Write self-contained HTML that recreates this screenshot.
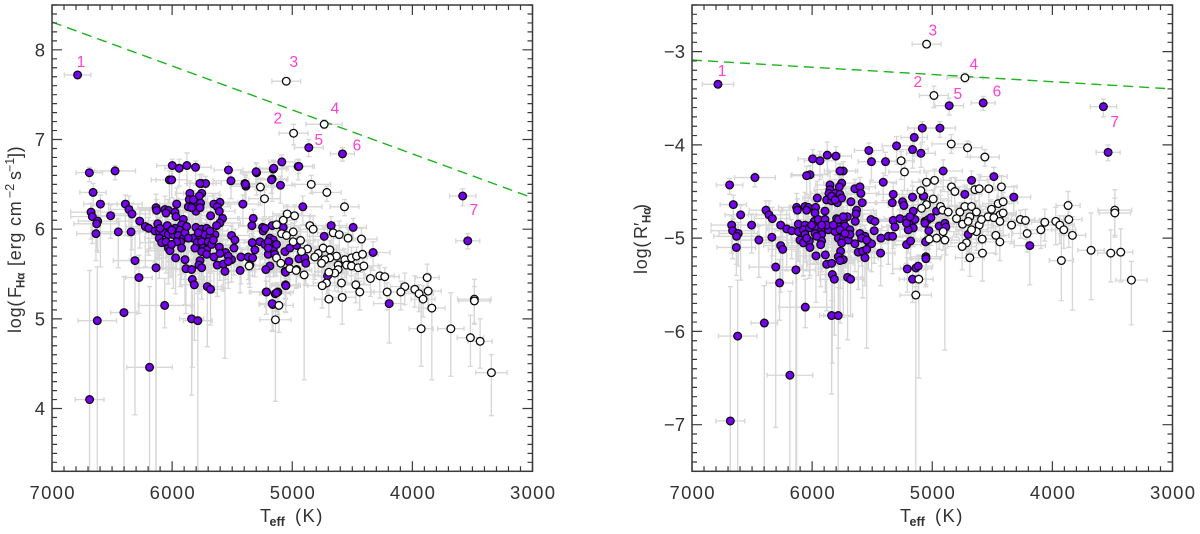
<!DOCTYPE html>
<html lang="en">
<head>
<meta charset="utf-8">
<title>Activity versus effective temperature</title>
<style>
html,body{margin:0;padding:0;background:#fff;width:1200px;height:534px;overflow:hidden}
svg{display:block}
text{font-family:"Liberation Sans",sans-serif;fill:#333}
</style>
</head>
<body>
<svg id="chart" xmlns="http://www.w3.org/2000/svg" width="1200" height="534" viewBox="0 0 1200 534"></svg>
<script>
// Rows: [Teff K, value, Teff error, upper error, lower error]
const fluxPurple=[
[6787,7.72,110,.03,.03],[6689,6.63,110,.06,.1],[6475,6.65,170,.06,.1],[6023,6.55,150,.1,.25],[6004,6.55,130,.1,.2],[5754,6.51,120,.1,.2],[5721,6.51,130,.08,.2],[5510,6.54,150,.1,.2],
[6658,6.41,110,.1,.15],[6597,6.28,140,.1,.7],[6675,6.19,170,.1,.3],[6664,6.14,180,.12,.3],[6620,6.09,160,.12,.35],[6628,6.06,190,.1,.3],[6512,6.15,150,.12,.25],[6634,5.95,160,.2,.3],[6448,5.97,170,.15,.4],[6342,5.97,130,.15,.3],
[6389,6.28,140,.1,.35],[6359,6.22,170,.15,.3],[6334,6.17,150,.12,.4],[6270,6.09,190,.15,.3],[6223,6.03,160,.2,.45],[6195,6.01,140,.12,.3],[6134,6.24,150,.15,3],[6129,6.21,130,.12,.4],
[6060,6.22,120,.15,.3],[6032,6.21,160,.12,.45],[6051,6.18,110,.1,.3],[5962,6.28,140,.18,.4],[5976,6.19,170,.12,.5],[5968,6.14,130,.1,.3],[5907,6.11,150,.15,.35],[5921,6.05,120,.1,.3],
[6120,6.06,170,.15,.4],[6040,6.04,150,.12,.35],[5976,6.01,130,.1,.3],[5935,5.99,180,.18,.5],[6143,5.98,190,.12,.35],[6107,5.97,160,.15,.3],[6073,5.96,120,.1,.4],[6032,5.94,140,.1,.3],[5990,5.94,170,.15,.6],[5949,5.93,150,.12,.3],[5907,5.90,130,.1,.4],[5893,5.96,160,.15,.3],
[6107,5.90,120,.1,.45],[6087,5.85,180,.15,.3],[6051,5.86,130,.1,.35],[6032,5.79,150,.15,.4],[6018,5.76,190,.12,.3],[5929,5.86,140,.1,.5],[5921,5.79,120,.18,.35],
[5852,6.40,120,.14,.3],[5754,6.40,150,.1,.25],[5774,6.37,110,.12,.3],[5857,6.33,130,.1,.35],[5865,6.25,150,.1,.3],[5824,6.27,110,.15,.25],[5782,6.27,140,.1,.3],[5763,6.29,120,.1,.25],[5802,6.20,130,.12,.4],[5838,6.24,160,.1,.3],
[5680,6.15,120,.1,.35],[5652,6.28,130,.1,.3],[5602,6.30,150,.08,.3],[5624,6.25,110,.1,.25],[5607,6.20,130,.12,.3],[5580,6.12,140,.1,.3],[5602,6.07,170,.1,.25],[5630,6.04,130,.14,.35],[5644,5.94,120,.1,.3],
[5802,6.02,160,.1,.4],[5754,6.00,130,.12,.3],[5713,6.01,110,.1,.4],[5824,5.90,150,.15,.35],[5768,5.92,130,.1,.45],[5727,5.94,120,.12,.3],[5685,5.92,170,.1,.5],[5791,5.85,130,.15,.35],[5754,5.86,150,.1,.3],[5699,5.86,120,.12,.35],[5741,5.79,140,.1,.4],[5713,5.77,130,.15,.3],[5671,5.83,160,.1,.3],[5754,5.75,120,.12,.35],
[5505,5.93,150,.1,.3],[5477,5.88,130,.12,.25],[5607,5.80,170,.1,.3],[5555,5.74,140,.15,.3],[5485,5.79,120,.1,.3],[5505,5.66,150,.1,.25],[5533,5.70,130,.12,.3],[5624,5.60,110,.1,.35],[5574,5.61,130,.1,.3],[5560,5.53,120,.12,.97],[5652,5.69,170,.1,.4],
[5971,5.68,150,.15,.4],[5893,5.66,120,.12,.5],[5768,5.65,130,.1,.35],[5777,5.60,110,.14,.3],[5754,5.57,120,.1,.35],[5885,5.56,150,.15,.5],[5838,5.55,130,.1,.4],[6134,5.57,160,.2,3],[6309,5.65,180,.3,1.72],[6276,5.46,110,.25,.4],
[5832,5.44,100,.2,.98],[5815,5.38,120,.15,.62],[5707,5.36,120,.2,.67],[5680,5.33,110,.18,.4],[6062,5.15,220,.3,.25],
[6401,5.07,110,.4,3],[6623,4.98,160,.6,3],[6188,4.46,190,.9,3],[6687,4.10,120,1.44,3],[5838,5.00,100,.4,.85],[5786,4.98,120,.3,3],
[5434,5.54,130,.12,.25],[5217,5.30,140,.12,.25],[5142,5.28,130,.12,.2],[5120,5.30,130,.1,.25],[5056,5.38,110,.12,.3],[5059,5.53,120,.1,.3],[5162,5.16,110,.15,.3],
[5394,6.51,110,.1,.2],[5386,6.48,130,.1,.2],[5297,6.63,120,.1,.25],[5158,6.67,110,.1,.2],[5167,6.56,130,.12,.25],[5098,6.49,120,.1,.2],[5411,6.28,130,.1,.25],
[5325,6.12,130,.1,.2],[5336,6.04,110,.12,.25],[5247,6.02,120,.1,.3],[5242,5.98,130,.12,.2],[5167,6.04,120,.1,.2],[5075,6.02,140,.1,.2],
[5427,5.69,130,.1,.3],[5367,5.69,120,.12,.25],[5330,5.68,130,.1,.2],[5333,5.85,110,.1,.25],[5269,5.86,130,.12,.3],[5228,5.83,120,.1,.25],[5186,5.90,140,.1,.3],[5158,5.88,110,.12,.25],[5172,5.83,130,.1,.2],[5311,5.77,120,.12,.3],[5200,5.72,130,.1,.25],[5158,5.77,120,.14,.3],[5145,5.72,110,.1,.25],
[5061,5.75,130,.1,.3],[5020,5.79,140,.12,.2],[4964,5.82,120,.1,.25],[4945,5.67,130,.1,.2],[4895,5.68,150,.12,.3],[4887,5.62,120,.1,.25],[5028,5.64,110,.1,.2],[5056,5.52,130,.12,.3],[5186,5.59,140,.1,.3],[5220,5.55,120,.12,.25],
[5053,5.37,120,.1,.3],[5214,5.30,130,.12,.25],[5131,5.29,120,.1,.2],[5167,5.17,110,.12,.3],[4912,6.25,160,.12,.2],[4676,6.04,130,.1,.2],[4734,5.92,140,.1,.2],[4706,5.48,120,.1,.2],[4493,6.02,110,.1,.15],[4327,5.74,140,.12,.2],[4193,5.17,130,.15,.44],
[5941,6.68,120,.1,.2],[5999,6.71,130,.07,.15],[5877,6.71,110,.14,.2],[5805,6.69,130,.07,.2],[5531,6.66,120,.08,.15],[5301,6.64,130,.1,.2],[5154,6.68,120,.08,.2],[5087,6.75,110,.08,.2],[4951,6.70,120,.08,.15],[5173,6.55,130,.1,.15],[5769,6.51,110,.1,.2],[5389,6.50,120,.1,.2],
[4862,6.91,120,.09,.1],[4582,6.84,100,.07,.08],[4945,6.70,130,.07,.08],[3581,6.37,110,.08,.11],[3539,5.87,100,.08,.09],
[6101,6.01,150,.12,.3],[6004,5.99,130,.1,.35],[5962,5.86,160,.12,.3],[5879,6.03,120,.1,.4],[5865,5.90,140,.12,.3],[5782,5.96,130,.1,.35],[5685,5.98,150,.12,.3],[5657,5.88,120,.1,.3],[5810,5.79,140,.12,.35],[5713,5.72,130,.1,.3],[5824,6.33,120,.1,.25],[5768,6.24,130,.1,.3],[5533,5.64,120,.12,.3],[5602,5.73,140,.1,.3],[6004,5.83,150,.12,.35],
[5200,5.86,120,.1,.25],[5200,5.79,130,.12,.2],[5131,5.83,120,.1,.25],[5228,6.01,130,.1,.2]
];
const fluxWhite=[
[5050,7.65,120,.03,.03],[4989,7.07,120,.1,.13],[4734,7.17,150,.05,.05],[4842,6.50,160,.1,.1],[4712,6.41,120,.07,.1],[4565,6.25,120,.08,.1],[5265,6.47,110,.1,.2],[5231,6.34,130,.1,.2],
[5042,6.17,120,.1,.2],[4981,6.15,130,.12,.2],[5075,6.10,110,.1,.25],[5131,6.05,120,.1,.2],[5089,5.95,130,.12,.2],[5048,5.93,110,.1,.25],[4992,5.97,120,.1,.2],[4853,6.04,130,.1,.2],[4826,6.00,120,.15,.2],[4659,5.96,130,.12,.25],[4609,5.94,110,.15,.2],[4535,5.90,120,.1,.2],[4424,5.89,130,.12,.2],[4992,5.86,130,.1,.25],[4931,5.875,120,.12,.2],[4873,5.78,130,.1,.2],[4743,5.79,130,.12,.25],[4687,5.77,110,.1,.2],[4632,5.70,120,.12,.2],[4784,5.73,130,.15,.2],[4812,5.69,120,.12,.25],[4687,5.68,120,.1,.2],[4729,5.66,130,.12,.2],[4756,5.62,110,.1,.25],[4562,5.66,120,.12,.2],[4507,5.68,130,.12,.2],[4465,5.70,120,.1,.2],[4415,5.72,130,.15,.2],[4548,5.60,120,.1,.2],[4507,5.59,130,.1,.2],[4451,5.57,110,.12,.25],[4404,5.59,120,.1,.2],[4618,5.60,120,.12,.2],[4618,5.55,130,.1,.25],[4646,5.51,110,.12,.2],[4695,5.52,120,.1,.2],[4590,5.40,120,.12,.2],[4715,5.40,110,.1,.2],[4751,5.37,120,.1,.25],[4471,5.38,120,.12,.2],[4438,5.30,120,.12,.2],[4349,5.45,130,.12,.2],[4271,5.48,120,.12,.25],[4230,5.47,120,.1,.2],[4063,5.36,120,.15,.2],[4096,5.30,110,.12,.2],[4210,5.30,130,.1,.2],[4695,5.22,120,.1,.2],[4584,5.24,110,.12,.3],[5111,5.15,120,.2,.3],[5140,4.99,130,.2,.91],[5353,5.60,110,.12,.25],[5131,5.68,120,.1,.2],[5095,5.62,130,.12,.25],[4964,5.55,110,.1,.2],[5020,5.56,130,.1,.2],[4901,5.49,120,.12,1.17],[4923,5.75,120,.1,.2],[4968,5.54,130,.1,.2],[5359,5.59,120,.1,.2],
[3980,5.33,110,.15,.2],[3944,5.28,120,.1,.2],[3911,5.22,100,.15,.2],[3869,5.31,110,.2,.2],[3877,5.46,100,.15,.2],[3838,5.12,110,.2,.8],[3927,4.89,100,.3,.42],[3680,4.89,110,.4,.53],[3517,4.79,110,.25,.32],[3436,4.75,100,.25,.3],[3342,4.40,130,.2,.48],[3484,5.22,140,.22,.27],[3484,5.20,130,.16,.26]
];
const ratioPurple=[
[6784,-3.35,130,.03,.03],[6687,-4.43,110,.07,.1],[6476,-4.35,170,.05,.1],[6656,-4.64,110,.1,.15],[6595,-4.75,130,.1,.7],[6670,-4.86,170,.1,.3],[6662,-4.92,180,.12,.3],[6615,-4.95,160,.12,.35],[6629,-4.98,190,.1,.3],[6631,-5.10,160,.2,.3],[6504,-4.86,150,.12,.3],[6443,-5.02,170,.15,.4],[6335,-4.99,130,.15,.3],
[6018,-4.32,150,.1,.25],[6046,-4.33,130,.1,.2],[5741,-4.28,120,.1,.2],[5768,-4.28,130,.08,.2],[5408,-4.40,110,.1,.2],[5851,-4.43,120,.14,.3],[5754,-4.41,150,.1,.25],[5774,-4.45,110,.12,.3],[5851,-4.48,130,.1,.35],[5860,-4.52,150,.1,.3],[5810,-4.52,110,.15,.25],[5768,-4.53,140,.1,.3],[5879,-4.59,130,.12,.4],[5838,-4.60,160,.1,.3],[5790,-4.62,120,.1,.25],[5754,-4.57,130,.12,.4],
[5644,-4.47,120,.1,.35],[5602,-4.45,130,.1,.3],[5594,-4.52,150,.08,.3],[5583,-4.62,110,.1,.25],[5677,-4.61,130,.12,.3],[5630,-4.70,140,.1,.3],[5635,-4.74,170,.1,.25],[5641,-4.82,130,.14,.35],[5957,-4.57,120,.18,.4],
[6384,-4.70,140,.1,.35],[6359,-4.75,170,.15,.3],[6331,-4.79,150,.12,.4],[6262,-4.86,190,.15,.3],[6212,-4.90,160,.2,.45],[6170,-4.92,140,.12,.3],[6129,-4.67,150,.15,3],[6123,-4.70,130,.12,.4],[6059,-4.66,120,.15,.3],[6032,-4.67,160,.12,.45],[6046,-4.70,110,.1,.3],[5971,-4.67,140,.18,.4],[5976,-4.73,170,.12,.5],[5893,-4.71,150,.15,.35],[5982,-4.82,120,.1,.3],
[6115,-4.85,170,.15,.4],[6059,-4.86,150,.12,.35],[6115,-4.93,130,.1,.3],[6073,-4.91,180,.18,.5],[6023,-4.89,190,.12,.35],[5962,-4.90,160,.15,.3],[5921,-4.91,120,.1,.4],[5865,-4.91,140,.1,.3],[5949,-4.80,170,.15,.6],[5893,-4.80,150,.12,.3],[5921,-4.96,130,.1,.4],[5921,-5.03,160,.15,.3],[5929,-5.07,120,.1,.45],
[6101,-5.02,180,.15,.3],[6073,-5.05,130,.1,.35],[6023,-5.03,150,.15,.4],[6018,-5.10,190,.12,.3],[6262,-5.08,140,.1,.5],[6245,-5.12,120,.18,.35],
[5796,-4.79,160,.1,.4],[5707,-4.77,130,.12,.3],[5741,-4.82,110,.1,.4],[5790,-4.86,150,.15,.35],[5727,-4.87,130,.1,.45],[5810,-4.93,120,.12,.3],[5754,-4.95,170,.1,.5],[5685,-4.91,130,.15,.35],[5782,-5.00,150,.1,.3],[5741,-5.00,120,.12,.35],[5699,-5.02,140,.1,.4],[5754,-5.05,130,.15,.3],[5685,-4.96,160,.1,.3],
[5602,-4.95,150,.1,.3],[5560,-4.98,130,.12,.25],[5532,-5.04,170,.1,.3],[5505,-5.06,140,.15,.3],[5644,-5.06,120,.1,.3],[5510,-4.80,150,.1,.25],[5477,-4.82,130,.12,.3],[5483,-4.92,110,.1,.35],[5427,-5.00,130,.1,.3],[5366,-4.98,120,.12,.3],[5330,-4.98,170,.1,.4],
[5616,-5.15,150,.15,.4],[5580,-5.14,120,.12,.5],[5546,-5.12,130,.1,1.06],[5560,-5.21,110,.14,.3],[5430,-5.16,120,.1,.35],
[5968,-5.19,150,.15,.5],[5890,-5.18,130,.1,.4],[5879,-5.28,160,.2,.5],[5838,-5.27,180,.3,.4],[5763,-5.14,110,.25,.4],[5782,-5.20,100,.2,.98],[5741,-5.23,120,.15,.62],[5768,-5.24,120,.2,.67],
[6303,-5.31,220,.3,1.72],[6135,-5.34,160,.2,3],[6271,-5.48,110,.25,.4],[6057,-5.74,220,.3,.22],[5832,-5.39,100,.2,.95],[5815,-5.44,120,.15,.6],[5705,-5.42,120,.2,.67],[5680,-5.44,110,.18,.4],
[6398,-5.91,110,.4,3],[6620,-6.05,160,.6,3],[6185,-6.47,190,.9,3],[6681,-6.96,120,1.44,3],[5838,-5.83,100,.4,.84],[5783,-5.83,120,.3,3],
[5333,-4.62,130,.12,.25],[5325,-4.53,140,.12,.25],[5247,-4.61,130,.12,.2],[5236,-4.65,130,.1,.25],[5164,-4.56,110,.12,.3],[5075,-4.55,120,.1,.3],[5325,-4.81,110,.15,.3],[5311,-4.88,110,.1,.2],[5269,-4.79,130,.1,.2],[5214,-4.80,120,.1,.25],[5158,-4.71,110,.1,.2],[5172,-4.79,130,.12,.25],[5144,-4.80,120,.1,.2],[5191,-4.85,130,.1,.25],[5158,-4.89,130,.1,.2],[5200,-4.91,110,.12,.25],[5061,-4.82,120,.1,.3],[5033,-4.80,130,.12,.2],
[5214,-5.07,120,.1,.2],[5180,-5.03,140,.1,.2],[5053,-5.20,130,.1,.3],[5208,-5.33,120,.12,.25],[5136,-5.32,130,.1,.2],[5117,-5.30,120,.12,.3],[5164,-5.44,110,.1,.25],[5047,-5.03,130,.14,.3],
[4909,-4.28,160,.12,.2],[4673,-4.38,130,.1,.2],[4487,-4.34,110,.1,.15],[4729,-4.53,140,.1,.2],[5070,-4.55,120,.1,.2],[4321,-4.56,140,.12,.2],[4964,-4.71,120,.1,.25],[5061,-4.84,130,.1,.2],[5011,-4.78,140,.12,.3],[4942,-4.87,120,.1,.25],[4895,-4.84,130,.1,.2],[4887,-4.88,150,.12,.3],[5028,-4.92,110,.1,.2],[5056,-5.04,130,.12,.3],[4701,-4.96,120,.1,.2],[4188,-5.08,130,.15,.42],[5053,-5.22,120,.1,.3],
[5150,-3.92,110,.1,.2],[5083,-3.82,120,.07,.15],[4936,-3.82,130,.07,.1],[5164,-4.05,130,.1,.2],[5094,-4.09,120,.1,.15],[5528,-4.06,120,.08,.15],[5506,-4.18,110,.1,.2],[5389,-4.18,110,.1,.15],[5297,-4.01,120,.1,.2],[5996,-4.15,120,.1,.2],[5935,-4.17,130,.1,.2],[5874,-4.11,110,.14,.2],[5802,-4.12,130,.1,.2],
[4859,-3.58,120,.08,.1],[4576,-3.55,100,.07,.08],[3575,-3.59,110,.08,.11],[3536,-4.08,100,.08,.09],
[5838,-4.55,130,.1,.3],[5810,-4.59,120,.1,.25],[6004,-4.86,150,.12,.35],[5976,-4.95,130,.1,.3],[5879,-4.86,140,.12,.4],[5921,-4.86,120,.1,.3],[5824,-4.86,150,.12,.35],[5768,-4.91,130,.1,.3],[5727,-4.95,120,.12,.3],[5782,-4.80,140,.1,.35],[5741,-4.77,130,.1,.3],[6059,-4.96,150,.12,.3],[6046,-5.00,130,.1,.35],[5962,-4.98,120,.12,.3],[5588,-5.00,130,.1,.3],[5546,-5.02,120,.1,.3],[5214,-4.84,120,.1,.2],[5186,-4.77,130,.1,.25]
];
const ratioWhite=[
[5047,-2.92,120,.03,.03],[4986,-3.47,120,.1,.13],[4728,-3.28,150,.05,.05],[4842,-3.99,160,.1,.1],[4706,-4.03,120,.07,.1],[4562,-4.13,120,.08,.1],[5259,-4.17,110,.1,.2],[5231,-4.29,130,.1,.2],[5048,-4.40,120,.1,.2],[4981,-4.38,130,.12,.2],[5095,-4.49,110,.1,.25],[4840,-4.45,130,.1,.2],[4812,-4.50,120,.15,.2],[4645,-4.48,130,.12,.25],[4609,-4.47,110,.15,.2],[4529,-4.47,120,.1,.2],[4424,-4.45,130,.12,.2],
[4992,-4.58,130,.1,.25],[5048,-4.64,120,.12,.2],[5089,-4.68,130,.1,.2],[4931,-4.66,130,.12,.25],[4914,-4.70,110,.1,.2],[4867,-4.72,120,.12,.2],[4729,-4.66,130,.15,.2],[4673,-4.66,120,.12,.25],[4770,-4.72,120,.1,.2],[4798,-4.79,130,.12,.2],[4748,-4.85,110,.1,.25],[4687,-4.77,120,.12,.2],[4632,-4.72,130,.12,.2],[4507,-4.69,120,.1,.2],[4451,-4.63,130,.15,.2],[4410,-4.61,120,.1,.2],[4437,-4.75,130,.1,.2],[4410,-4.73,110,.12,.25],[4535,-4.77,120,.1,.2],[4487,-4.78,120,.12,.2],[4437,-4.82,130,.1,.25],[4340,-4.86,110,.12,.2],[4266,-4.80,120,.1,.2],[4224,-4.81,120,.12,.2],[4063,-4.83,110,.14,.2],[4096,-4.91,120,.12,.2],[4210,-4.95,120,.1,.2],[3972,-4.82,110,.15,.25],[3938,-4.86,120,.1,.2],[3905,-4.91,100,.15,.2],[3863,-4.80,110,.2,.3],[3869,-4.65,100,.15,.2],[3833,-4.97,110,.2,.8],
[4584,-5.01,120,.1,.2],[4437,-5.04,120,.12,.2],[4471,-4.97,110,.1,.2],[4687,-5.21,120,.1,.2],[4582,-5.16,110,.12,.3],[3925,-5.24,100,.3,.43],[3678,-5.13,110,.4,.53],[4715,-5.05,130,.1,.2],[4751,-5.09,120,.12,.25],[4609,-4.86,110,.1,.2],[4632,-4.93,120,.12,.2],[4673,-4.91,130,.1,.25],[4701,-4.82,120,.12,.2],[4590,-4.80,120,.1,.2],[4964,-5.00,130,.12,.2],[5025,-5.01,120,.1,.25],[4895,-5.02,120,.1,1.18],[4909,-4.93,130,.12,.2],[5112,-5.44,120,.25,1.06],[5137,-5.61,130,.2,3],
[3514,-5.16,110,.25,.31],[3431,-5.15,100,.25,.32],[3342,-5.45,130,.2,.48],[3480,-4.70,140,.22,.27],[3480,-4.73,130,.16,.26]
];
const xTickValues=[7000,6000,5000,4000,3000];
const fluxTickValues=[4,5,6,7,8];
const ratioTickValues=[-3,-4,-5,-6,-7];
const fluxLimitLine=[[7000,8.31],[3000,6.35]];
const ratioLimitLine=[[7000,-3.09],[3000,-3.40]];
const fluxLabels=[["1",6759,7.87],["2",5120,7.24],["3",4987,7.87],["4",4645,7.35],["5",4779,7.0],["6",4462,6.94],["7",3489,6.22]];
const ratioLabels=[["1",6750,-3.20],["2",5120,-3.32],["3",4995,-2.77],["4",4654,-3.13],["5",4787,-3.45],["6",4462,-3.42],["7",3481,-3.75]];

const NS='http://www.w3.org/2000/svg';
const svg=document.getElementById('chart');
function mk(parent,tag,attrs,text){
  const e=document.createElementNS(NS,tag);
  for(const k in attrs)e.setAttribute(k,attrs[k]);
  if(text!==undefined)e.textContent=text;
  parent.appendChild(e);
  return e;
}
const defs=mk(svg,'defs',{});

function drawPanel(o){
  const L=o.left,R=o.left+480.5,T=5,B=471.3;
  const X=k=>L+(7000-k)/4000*(R-L);
  const Y=v=>T+(o.yMax-v)/(o.yMax-o.yMin)*(B-T);
  const panel=mk(svg,'g',{});
  
  
  const clip=mk(defs,'clipPath',{id:o.name+'-clip'});
  mk(clip,'rect',{x:L,y:T,width:R-L,height:B-T});
  const plot=mk(panel,'g',{'clip-path':'url(#'+o.name+'-clip)'});
  
  

  const errors=mk(plot,'g',{fill:'none',stroke:'#d7d7d7','stroke-width':'1.35'});
  
  
  [...o.purple,...o.white].forEach(r=>{
    const x=X(r[0]),y=Y(r[1]),x1=X(r[0]+r[2]),x2=X(r[0]-r[2]),yu=Y(r[1]+r[3]),rawDown=Y(r[1]-r[4]);
    const yd=Math.min(rawDown,B);
    let d=`M${x1} ${y}H${x2}M${x1} ${y-2.5}V${y+2.5}M${x2} ${y-2.5}V${y+2.5}M${x} ${yu}V${yd}M${x-2.5} ${yu}H${x+2.5}`;
    if(rawDown<B)d+=`M${x-2.5} ${yd}H${x+2.5}`;
    const p=mk(errors,'path',{d});
    
    
  });

  const limit=mk(plot,'line',{x1:X(o.line[0][0]),y1:Y(o.line[0][1]),x2:X(o.line[1][0]),y2:Y(o.line[1][1]),stroke:'#1fb31f','stroke-width':'1.4','stroke-dasharray':'10 6'});
  
  

  o.purple.forEach(r=>{
    const c=mk(plot,'circle',{cx:X(r[0]),cy:Y(r[1]),r:'3.85',fill:'#7600f2',stroke:'#0c0c0c','stroke-width':'1.3'});
    
    
  });
  o.white.forEach(r=>{
    const c=mk(plot,'circle',{cx:X(r[0]),cy:Y(r[1]),r:'3.85',fill:'#fff',stroke:'#0c0c0c','stroke-width':'1.3'});
    
    
  });

  o.labels.forEach(l=>{
    const t=mk(panel,'text',{x:X(l[1]),y:Y(l[2])+5.5,'text-anchor':'middle','font-size':'15.5',style:'fill:#ff3fd4'},l[0]);
    
    
  });

  // frame and ticks
  const axes=mk(panel,'g',{stroke:'#3a3a3a','stroke-width':'1.2',fill:'none'});
  
  
  const frame=mk(axes,'rect',{x:L,y:T,width:R-L,height:B-T,'stroke-width':'1.5'});
  
  
  let d='';
  for(let k=7000;k>=3000;k-=100){
    const x=X(k),len=(k%1000===0)?10:5;
    d+=`M${x} ${B}V${B-len}M${x} ${T}V${T+len}`;
  }
  const yLow=Math.ceil(o.yMin*10),yHigh=Math.floor(o.yMax*10);
  for(let i=yLow;i<=yHigh;i++){
    const y=Y(i/10),len=(i%10===0)?10:5;
    d+=`M${L} ${y}H${L+len}M${R} ${y}H${R-len}`;
  }
  const ticks=mk(axes,'path',{d});
  
  

  xTickValues.forEach(k=>{
    const t=mk(panel,'text',{x:X(k),y:499,'text-anchor':'middle','font-size':'18.5',textLength:'45',lengthAdjust:'spacing'},String(k));
    
    
  });
  o.yTicks.forEach(v=>{
    const t=mk(panel,'text',{x:L-7,y:Y(v)+6.5,'text-anchor':'end','font-size':'18.5'},String(v).replace('-','\u2212'));
    
    
  });

  // x axis title
  const xt=mk(panel,'g',{transform:`translate(${L+208},522)`});
  
  
  mk(xt,'text',{x:0,y:0,'font-size':'18'},'T');
  mk(xt,'text',{x:9.5,y:4,'font-size':'12.5','font-weight':'bold'},'eff');
  mk(xt,'text',{x:35,y:0,'font-size':'18.5','letter-spacing':'1.4'},'(K)');

  // y axis title
  const yt=mk(panel,'g',{transform:`translate(${o.titleX},${o.titleY}) rotate(-90)`});
  
  
  o.title.forEach(p=>{
    mk(yt,'text',{x:p[0],y:p[1],'font-size':p[2],'font-weight':p[4]||'normal','letter-spacing':p[5]||0},p[3]);
  });
}

drawPanel({name:'flux',left:52,yMin:3.3,yMax:8.5,purple:fluxPurple,white:fluxWhite,line:fluxLimitLine,labels:fluxLabels,yTicks:fluxTickValues,titleX:21,titleY:333,
  title:[[0,0,18,'log(',null,.8],[35,0,18,'F'],[45,3.5,11.5,'H\u03b1','bold'],[67,0,18,'[erg',null,.8],[107,0,18,'cm',null,.8],[135,-7,12.5,'\u22122'],[153,0,18,'s'],[161,-7,12.5,'\u22121'],[175,0,18,'])',null,.6]]});
drawPanel({name:'ratio',left:692,yMin:-7.5,yMax:-2.5,purple:ratioPurple,white:ratioWhite,line:ratioLimitLine,labels:ratioLabels,yTicks:ratioTickValues,titleX:647,titleY:274,
  title:[[0,0,18,'log(',null,.8],[35,0,18,'R\u2032'],[51,3.5,11.5,'H\u03b1','bold'],[64,0,18,')']]});
</script>
</body>
</html>
